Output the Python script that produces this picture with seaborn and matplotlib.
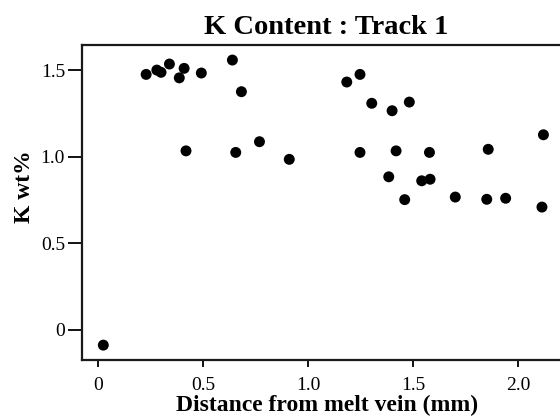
import numpy as np
import pandas as pd
import matplotlib
matplotlib.use("Agg")
import matplotlib.pyplot as plt
import seaborn as sns

# K content along track 1
distance_mm = [0.024, 0.228, 0.279, 0.299, 0.339, 0.386, 0.409, 0.491, 0.639, 0.682,
               0.418, 0.655, 0.768, 0.910, 1.184, 1.247, 1.303, 1.400, 1.482, 1.247,
               1.419, 1.578, 1.384, 1.460, 1.541, 1.581, 1.701, 1.851, 1.941, 1.858,
               2.114, 2.121]
k_wt = [-0.090, 1.475, 1.500, 1.487, 1.535, 1.455, 1.510, 1.483, 1.558, 1.375,
        1.033, 1.024, 1.086, 0.984, 1.431, 1.475, 1.308, 1.265, 1.315, 1.024,
        1.033, 1.024, 0.883, 0.751, 0.860, 0.869, 0.766, 0.753, 0.759, 1.042,
        0.708, 1.126]

x_ticks = [0, 0.5, 1.0, 1.5, 2.0]
x_ticklabels = ["0", "0.5", "1.0", "1.5", "2.0"]
y_ticks = [0, 0.5, 1.0, 1.5]
y_ticklabels = ["0", "0.5", "1.0", "1.5"]

df = pd.DataFrame({"distance": distance_mm, "k": k_wt})

sns.set_style("ticks")
plt.rcParams["font.family"] = ["Liberation Serif", "DejaVu Serif"]
plt.rcParams["text.color"] = "black"
plt.rcParams["axes.labelcolor"] = "black"
plt.rcParams["xtick.color"] = "black"
plt.rcParams["ytick.color"] = "black"

fig = plt.figure(figsize=(5.6, 4.16), dpi=100)
# axes runs past the right edge of the canvas, like the cropped original
ax = fig.add_axes([81.7 / 560, 56 / 416, (570.5 - 81.7) / 560, 315 / 416])

sns.scatterplot(data=df, x="distance", y="k", ax=ax, color="black",
                s=62, edgecolor="none", linewidth=0, legend=False)

ax.set_xlim(-0.079, 2.25)
ax.set_ylim(-0.176, 1.645)

ax.set_xticks(x_ticks)
ax.set_xticklabels(x_ticklabels)
ax.set_yticks(y_ticks)
ax.set_yticklabels(y_ticklabels)

ax.tick_params(axis="y", length=10, width=1.3, pad=2, labelsize=14, colors="black")
ax.tick_params(axis="x", length=5, width=1.3, pad=7, labelsize=14, colors="black")

for side in ["left", "top", "bottom"]:
    ax.spines[side].set_visible(True)
    ax.spines[side].set_linewidth(1.6)
    ax.spines[side].set_color("#1a1a1a")
ax.spines["right"].set_visible(False)

ax.set_title("K Content : Track 1", fontsize=20.5, fontweight="bold", pad=8)
ax.set_xlabel("Distance from melt vein (mm)", fontsize=17, fontweight="bold")
ax.set_ylabel("K wt%", fontsize=17, fontweight="bold")
ax.xaxis.set_label_coords((327 - 81.7) / 488.8, -0.11)
ax.yaxis.set_label_coords(-0.095, 0.55)

fig.savefig("out.png", dpi=100)
